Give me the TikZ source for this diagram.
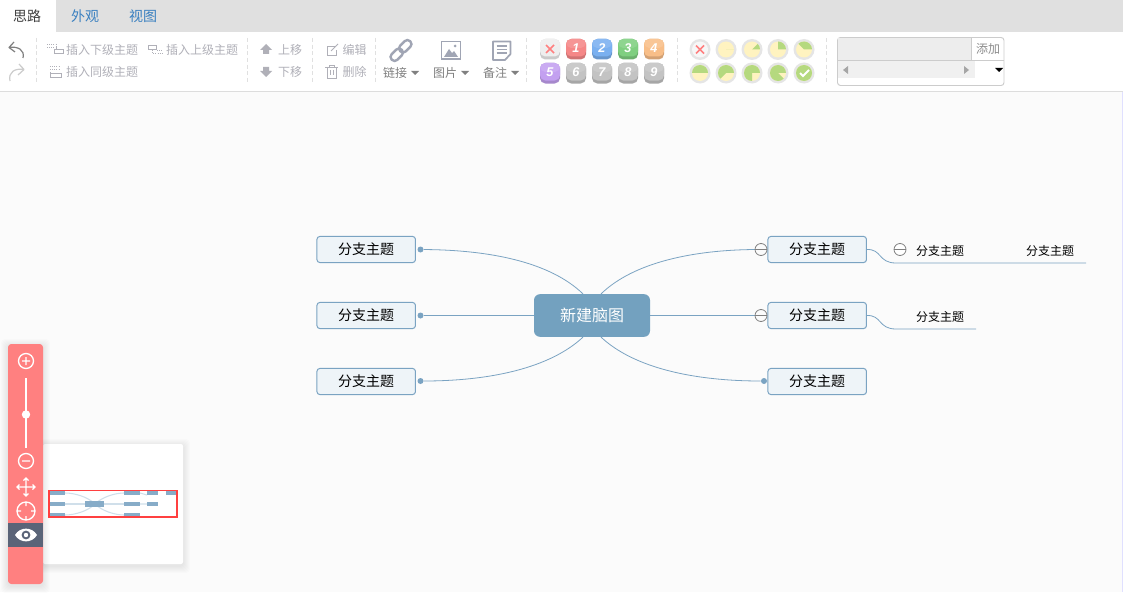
\documentclass[tikz,border=0pt]{standalone}
\usepackage{fontspec}
\setmainfont{Noto Sans CJK SC}
\newfontfamily\numfont{Liberation Sans}
\usepackage{tikz}
\usetikzlibrary{calc,positioning}
\definecolor{canvas}{RGB}{251,251,251}
\definecolor{tabbar}{RGB}{224,224,224}
\definecolor{rule}{RGB}{221,221,221}
\definecolor{linkblue}{RGB}{122,163,194}
\definecolor{rootblue}{RGB}{115,161,191}
\definecolor{branchfill}{RGB}{238,244,248}
\definecolor{tabblue}{RGB}{58,128,192}
\definecolor{muted}{RGB}{176,176,184}
\definecolor{iconblue}{RGB}{160,165,180}
\definecolor{palette}{RGB}{255,128,128}
\definecolor{eyeband}{RGB}{90,100,120}
\definecolor{cream}{RGB}{255,243,192}
\definecolor{leaf}{RGB}{181,217,127}
\definecolor{prio0}{RGB}{238,238,238}
\definecolor{prio1}{RGB}{245,135,135}
\definecolor{prio2}{RGB}{122,176,240}
\definecolor{prio3}{RGB}{127,207,128}
\definecolor{prio4}{RGB}{248,190,136}
\definecolor{prio5}{RGB}{195,160,240}
\definecolor{prio6}{RGB}{195,195,195}
\tikzset{%
  root/.style={fill=rootblue, rounded corners=4.5pt, minimum width=87pt, minimum height=32pt, text=white, font=\fontsize{12}{12}\selectfont},
  branch/.style={draw=linkblue, line width=.75pt, fill=branchfill, rounded corners=2.2pt, minimum width=73.9pt, minimum height=19.6pt, inner sep=0pt, font=\fontsize{10.5}{10.5}\selectfont},% first level
  leafnode/.style={inner sep=0pt, font=\fontsize{9}{9}\selectfont},% second level
  link/.style={draw=linkblue, line width=.6pt},
  dotmark/.style={circle, fill=linkblue, inner sep=0pt, minimum size=4.5pt},
  expander/.style={circle, draw=gray, fill=canvas, line width=.6pt, inner sep=0pt, minimum size=9pt},
  tool/.style={text=muted, inner sep=0pt, font=\fontsize{9}{9}\selectfont},% disabled button
  toolon/.style={text=black!50, inner sep=0pt, font=\fontsize{9}{9}\selectfont},
  tabtext/.style={inner sep=0pt, font=\fontsize{10.5}{10.5}\selectfont},
  sep/.style={draw=black!12, densely dashed, line width=.5pt},
  hollow/.style={draw=muted, line width=.6pt},
  dots/.style={draw=muted, line width=.6pt, densely dotted},
  whiteicon/.style={draw=white, line width=1pt},
  mini/.style={fill=linkblue!90},
  minilink/.style={draw=linkblue!35, line width=.8pt}
}
\newcommand*{\badge}[4]{
  \fill[#3!85!black, rounded corners=4pt] (#1-10,#2-10) rectangle (#1+10,#2+10.5);
  \fill[#3, rounded corners=4pt] (#1-10,#2-10) rectangle (#1+10,#2+7.5);
  \fill[#3!88!white, rounded corners=4pt] (#1-10,#2-10) rectangle (#1+10,#2-1);
  \node[text=white, inner sep=0pt, font=\numfont\bfseries\itshape\fontsize{9.5}{9.5}\selectfont] at (#1,#2-1) {#4};
}
\newcommand*{\pie}[3]{
  \fill[black!10] (#1,#2) circle (10.5);
  \fill[cream] (#1,#2) circle (8);
  \fill[leaf] (#1,#2) -- +(0:8) arc (0:#3:8) -- cycle;
}
\newcommand*{\dropmark}[3]{
  \fill[#3] (#1-4,#2-2) -- (#1+4,#2-2) -- (#1,#2+2) -- cycle;
}
\newcommand*{\softshadow}[4]{
  \foreach \r in {1,2,...,7}
    \fill[black, opacity=.012, rounded corners=3pt] (#1-\r,#2-\r+2) rectangle (#3+\r,#4+\r+2);
}
\begin{document}
\begin{tikzpicture}[x=.75pt,y=-.75pt]
\useasboundingbox (0,0) rectangle (1123,592);
% page
\fill[canvas] (0,92) rectangle (1123,592);
\fill[white] (0,32) rectangle (1123,91);
\fill[tabbar] (0,0) rectangle (1123,32);
\fill[white] (0,0) rectangle (56,32);
\fill[rule] (0,91) rectangle (1123,92);
\fill[blue!12!white] (1122,92) rectangle (1123,592);

% tabs
\node[tabtext, text=black!75] (tabidea) at (27,16) {思路};
\node[tabtext, text=tabblue] (tablook) at (85,16) {外观};
\node[tabtext, text=tabblue] (tabview) at (143,16) {视图};

% separators
\draw[sep] (36,38) -- (36,83);
\draw[sep] (247,38) -- (247,83);
\draw[sep] (312,38) -- (312,83);
\draw[sep] (375.5,38) -- (375.5,83);
\draw[sep] (526.5,38) -- (526.5,83);
\draw[sep] (677,38) -- (677,83);
\draw[sep] (826.5,38) -- (826.5,83);

% undo, redo
\draw[black!50, line width=.9pt, line join=round] (14,42) -- (9,47.5) -- (15,52) (9,47.5) .. controls (18,46) and (25,50) .. (23,58);
\draw[black!20, line width=.9pt, line join=round] (19,64) -- (24,69.5) -- (18,75) (24,69.5) .. controls (15,68) and (8,72) .. (10,81);

% insert buttons
\draw[dots] (47,44) -- (56,44) (47,47) -- (56,47) (56,44) -- (56,49);
\draw[hollow] (54,49) rectangle (63,53.5);
\node[tool] (child) at (102,49.5) {插入下级主题};
\draw[hollow] (148,45) rectangle (156,49.5);
\draw[dots] (152,50) -- (152,53) -- (163,53) (157,50) -- (163,50);
\node[tool] (parent) at (202,49.5) {插入上级主题};
\draw[dots] (50,66) -- (60,66) (50,69) -- (60,69);
\draw[hollow] (50,72) -- (50,77.5) -- (61,77.5) -- (61,73) -- (50,73);
\node[tool] (sibling) at (102,72) {插入同级主题};

% move
\fill[muted] (266,44) -- (272,50) -- (269,50) -- (269,54) -- (263,54) -- (263,50) -- (260,50) -- cycle;
\fill[muted] (266,77) -- (272,71) -- (269,71) -- (269,67) -- (263,67) -- (263,71) -- (260,71) -- cycle;
\node[tool] (moveup) at (290,49.5) {上移};
\node[tool] (movedown) at (290,72) {下移};

% edit, delete
\draw[hollow] (336,46) -- (327,46) -- (327,55) -- (336,55) -- (336,50);
\draw[hollow] (331,51) -- (338,44);
\draw[hollow] (325,67) -- (338,67) (329,67) -- (329,65) -- (334,65) -- (334,67) (327,67) -- (327,78) -- (336,78) -- (336,67) (330,70) -- (330,75.5) (333,70) -- (333,75.5);
\node[tool] (edit) at (354.5,49.5) {编辑};
\node[tool] (remove) at (354.5,72) {删除};

% link, image, note
\begin{scope}[rotate around={45:(401,50.5)}]
  \draw[iconblue, line width=1.8pt, rounded corners=2.8pt] (388,46.5) rectangle (402,54.5);
  \draw[iconblue, line width=1.8pt, rounded corners=2.8pt] (400,46.5) rectangle (414,54.5);
\end{scope}
\node[toolon] (linktext) at (395,73) {链接};
\dropmark{415}{73}{black!50}
\draw[iconblue, line width=1.3pt] (441.5,41.5) rectangle (460.5,59);
\fill[iconblue] (444,57) -- (449,49) -- (452,53) -- (454,51) -- (458,57) -- cycle;
\fill[iconblue] (455,46) circle (1.5);
\node[toolon] (imagetext) at (445,73) {图片};
\dropmark{465}{73}{black!50}
\draw[iconblue, line width=1.3pt, line join=round] (493,41.5) -- (510.5,41.5) -- (510.5,54) -- (505,60) -- (493,60) -- cycle;
\draw[iconblue, line width=1pt] (496.5,46) -- (507,46) (496.5,49.5) -- (507,49.5) (496.5,53) -- (507,53);
\node[toolon] (notetext) at (495,73) {备注};
\dropmark{515}{73}{black!50}

% priority
\badge{550}{49}{prio0}{}
\draw[red!50, line width=1.2pt] (546,45) -- (554,53) (554,45) -- (546,53);
\badge{576}{49}{prio1}{1}
\badge{602}{49}{prio2}{2}
\badge{628}{49}{prio3}{3}
\badge{654}{49}{prio4}{4}
\badge{550}{73}{prio5}{5}
\badge{576}{73}{prio6}{6}
\badge{602}{73}{prio6}{7}
\badge{628}{73}{prio6}{8}
\badge{654}{73}{prio6}{9}

% progress
\fill[black!10] (700,49.5) circle (10.5);
\fill[black!3] (700,49.5) circle (8);
\draw[red!50, line width=1.2pt] (696,45.5) -- (704,53.5) (704,45.5) -- (696,53.5);
\pie{726}{49.5}{0}
\pie{752}{49.5}{-45}
\pie{778}{49.5}{-90}
\pie{804}{49.5}{-135}
\pie{700}{73}{-180}
\pie{726}{73}{-225}
\pie{752}{73}{-270}
\pie{778}{73}{-315}
\pie{804}{73}{-360}
\draw[white, line width=1.5pt] (800,73) -- (803,76) -- (809,70);

% tag box
\draw[black!20, fill=white, line width=.7pt, rounded corners=2.2pt] (837.5,37.5) rectangle (1004,85.5);
\fill[black!7] (838,38) rectangle (971.5,60.5);
\fill[black!6] (838,61) rectangle (975,78);
\draw[black!20, line width=.7pt] (971.5,37.5) -- (971.5,60.5) (837.5,60.5) -- (1004,60.5);
\node[tool, text=black!45] (addtag) at (988,49) {添加};
\fill[black!35] (843,70) -- (848,66) -- (848,74) -- cycle;
\fill[black!35] (969,70) -- (964,66) -- (964,74) -- cycle;
\dropmark{999}{70}{black}

% palette and navigator
\softshadow{43}{444}{183}{564}
\node[fill=white, minimum width=105pt, minimum height=90pt, inner sep=0pt, rounded corners=1.5pt] (navigator) at (113,504) {};
\softshadow{8}{344}{43}{584}
\node[fill=palette, minimum width=26.25pt, minimum height=180pt, inner sep=0pt, rounded corners=2.5pt] (panel) at (25.5,464) {};
\fill[eyeband] (8,523) rectangle (43,547);
\draw[whiteicon] (26,361) circle (7.5) (22,361) -- (30,361) (26,357) -- (26,365);
\draw[white, line width=1.1pt] (26,378) -- (26,448);
\fill[white] (26,414.5) circle (4.2);
\draw[whiteicon] (26,461) circle (7.5) (22,461) -- (30,461);
\draw[white, line width=.9pt] (17,487) -- (35,487) (26,478) -- (26,496) (19.5,484.5) -- (17,487) -- (19.5,489.5) (32.5,484.5) -- (35,487) -- (32.5,489.5) (23.5,480.5) -- (26,478) -- (28.5,480.5) (23.5,493.5) -- (26,496) -- (28.5,493.5);
\draw[whiteicon] (26,511) circle (9) (26,502) -- (26,506) (26,516) -- (26,520) (17,511) -- (21,511) (31,511) -- (35,511);
\fill[white] (15,535) .. controls (20,526.5) and (32,526.5) .. (37,535) .. controls (32,543.5) and (20,543.5) .. (15,535) -- cycle;
\fill[eyeband] (26,535) circle (4.4);
\fill[white] (26,535) circle (2.2);

% minimap
\draw[minilink] (65,493) .. controls (75,493) and (88,497) .. (95,504) .. controls (102,497) and (115,493) .. (124,493);
\draw[minilink] (65,515) .. controls (75,515) and (88,511) .. (95,504) .. controls (102,511) and (115,515) .. (124,515);
\draw[minilink] (65,504) -- (124,504);
\draw[minilink] (140,493) .. controls (143,493) and (144,495) .. (147,495) (140,504) -- (147,504);
\fill[mini] (49,491) rectangle (65,495);
\fill[mini] (49,502) rectangle (65,506);
\fill[mini] (49,513) rectangle (65,517);
\fill[mini] (85,501) rectangle (104,507);
\fill[mini] (124,491) rectangle (140,495);
\fill[mini] (124,502) rectangle (140,506);
\fill[mini] (124,513) rectangle (140,517);
\fill[mini] (147,491) rectangle (158,495);
\fill[mini] (166,491) rectangle (176,495);
\fill[mini] (147,502) rectangle (158,506);
\draw[red!75, line width=.8pt] (49,490.5) rectangle (177,517);

% map
\node[root] (root) at (592,315.5) {新建脑图};
\node[branch] (a) at (366.2,249.5) {分支主题};
\node[branch] (b) at (366.2,315.5) {分支主题};
\node[branch] (c) at (366.2,381.5) {分支主题};
\node[branch] (d) at (817.2,249.5) {分支主题};
\node[branch] (e) at (817.2,315.5) {分支主题};
\node[branch] (f) at (817.2,381.5) {分支主题};
\node[leafnode] (g) at (940,250.5) {分支主题};
\node[leafnode] (h) at (1050,250.5) {分支主题};
\node[leafnode] (i) at (940,316.5) {分支主题};

\node[dotmark] (adot) at (420.5,249.5) {};
\node[dotmark] (bdot) at (420.5,315.5) {};
\node[dotmark] (cdot) at (420.5,381) {};
\node[dotmark] (fdot) at (764,381) {};
\coordinate (gend) at (896,263);
\coordinate (iend) at (896,329);
\coordinate (hend) at (1086,263);
\coordinate (jend) at (976,329);

\draw[link] (adot) .. controls (490,250) and (550,262) .. ($(root.north)+(-9,0)$);
\draw[link] (cdot) .. controls (490,381) and (550,368) .. ($(root.south)+(-9,0)$);
\draw[link] (bdot) -- (root);
\draw[link] (root) -- (e);
\draw[link] ($(root.north)+(9,0)$) .. controls (634,262) and (694,250) .. (755,249.5);
\draw[link] ($(root.south)+(9,0)$) .. controls (634,368) and (694,381) .. (fdot);
\draw[link] (d.east) .. controls (882,249) and (878,263) .. (gend) -- (hend);
\draw[link] (e.east) .. controls (882,315) and (878,329) .. (iend) -- (jend);

\node[expander] (dminus) at (761,249.5) {};
\node[expander] (eminus) at (761,315.5) {};
\node[expander, fill=white] (gminus) at (900,249.5) {};
\draw[gray, line width=.6pt] (dminus.west) -- (dminus.east) (eminus.west) -- (eminus.east) (gminus.west) -- (gminus.east);

\end{tikzpicture}
\end{document}
